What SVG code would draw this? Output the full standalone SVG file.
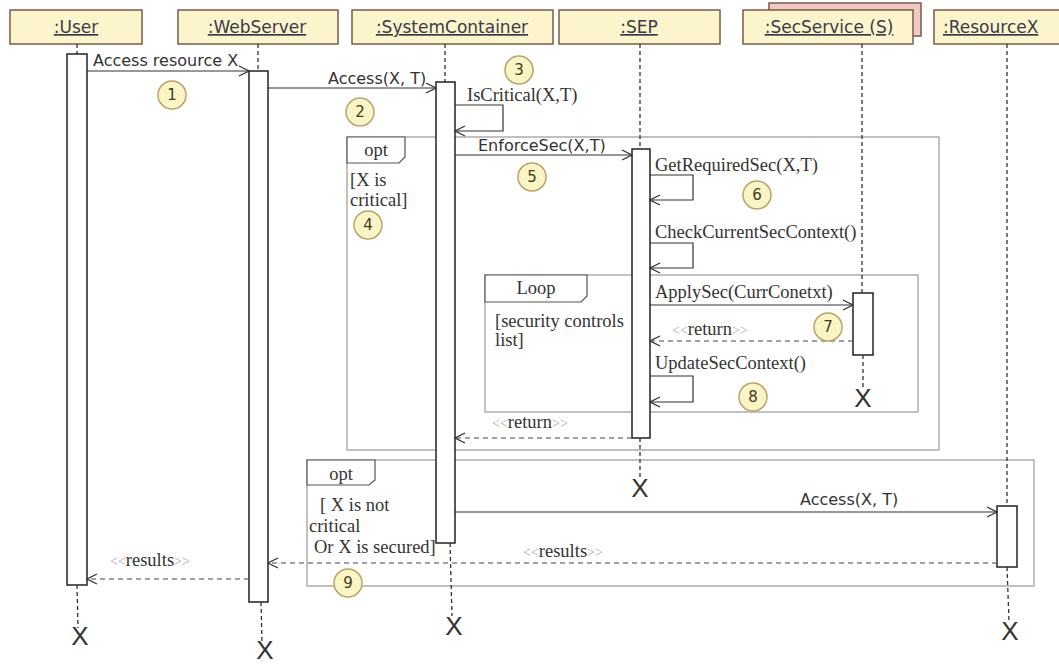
<svg xmlns="http://www.w3.org/2000/svg" width="1059" height="664" viewBox="0 0 1059 664">
  <defs>
    <marker id="open" markerUnits="userSpaceOnUse" markerWidth="12" markerHeight="12" viewBox="0 0 12 12" refX="11" refY="6" orient="auto">
      <path d="M1,1 L11,6 L1,11" fill="none" stroke="#333" stroke-width="1.3"/>
    </marker>
    <style>
      .hdr { fill: #fcf5cc; stroke: #7a5a48; stroke-width: 1.5; }
      .shadow { fill: #f2c9c4; stroke: #7a5a48; stroke-width: 1.5; }
      .hdrtxt { font-family: "DejaVu Sans", sans-serif; font-size: 17px; fill: #3a3a4a; text-decoration: underline; }
      .mid { text-anchor: middle; }
      .life { stroke: #333; stroke-width: 1.3; stroke-dasharray: 4 3; fill: none; }
      .act { fill: #fff; stroke: #222; stroke-width: 1.5; }
      .msg { stroke: #333; stroke-width: 1.2; fill: none; marker-end: url(#open); }
      .ret { stroke: #444; stroke-width: 1.2; stroke-dasharray: 5 4; fill: none; marker-end: url(#open); }
      .sans { font-family: "DejaVu Sans", sans-serif; font-size: 16px; fill: #333; }
      .serif { font-family: "Liberation Serif", serif; font-size: 18.5px; fill: #333; }
      .st { fill: #aaa; font-size: 14px; }
      .frame { fill: none; stroke: #a0a0a0; stroke-width: 1.3; }
      .tab { fill: #fff; stroke: #555; stroke-width: 1.2; }
      .num { fill: #fbf4c4; stroke: #b9a56a; stroke-width: 1.5; }
      .numtxt { font-family: "DejaVu Sans", sans-serif; font-size: 15px; fill: #3d3d22; text-anchor: middle; }
      .x { font-family: "Liberation Sans", sans-serif; font-size: 26px; fill: #333; text-anchor: middle; }
    </style>
  </defs>
  <rect width="1059" height="664" fill="#fff"/>

  <!-- combined fragments -->
  <g id="frame-opt1">
    <rect class="frame" x="347" y="137" width="592" height="313"/>
    <path class="tab" d="M347,137 H405 V157 L399,163 H347 Z"/>
    <text class="serif" x="376" y="156" text-anchor="middle">opt</text>
    <text class="serif" x="350" y="186">[X is</text>
    <text class="serif" x="350" y="206">critical]</text>
  </g>
  <g id="frame-loop">
    <rect class="frame" x="485" y="275" width="433" height="137"/>
    <path class="tab" d="M485,275 H587 V296 L581,302 H485 Z"/>
    <text class="serif" x="536" y="294" text-anchor="middle">Loop</text>
    <text class="serif" x="495" y="327">[security controls</text>
    <text class="serif" x="495" y="346">list]</text>
  </g>
  <g id="frame-opt2">
    <rect class="frame" x="307" y="460" width="727" height="126"/>
    <path class="tab" d="M307,460 H375 V480 L369,485 H307 Z"/>
    <text class="serif" x="341" y="480" text-anchor="middle">opt</text>
    <text class="serif" x="320" y="511">[ X is not</text>
    <text class="serif" x="309" y="532">critical</text>
    <text class="serif" x="314" y="553">Or X is secured]</text>
  </g>

  <!-- lifelines -->
  <g id="user">
    <rect class="hdr" x="10" y="10" width="132" height="34"/>
    <text class="hdrtxt mid" x="76" y="33">:User</text>
    <line class="life" x1="77" y1="44" x2="77" y2="54"/>
    <rect class="act" x="67" y="54" width="20" height="531"/>
    <line class="life" x1="77" y1="585" x2="78" y2="628"/>
    <text class="x" x="80" y="645">X</text>
  </g>
  <g id="webserver">
    <rect class="hdr" x="178" y="10" width="160" height="34"/>
    <text class="hdrtxt mid" x="257" y="33">:WebServer</text>
    <line class="life" x1="258" y1="44" x2="258" y2="71"/>
    <rect class="act" x="249" y="71" width="19" height="531"/>
    <line class="life" x1="261" y1="602" x2="262" y2="642"/>
    <text class="x" x="265" y="659">X</text>
  </g>
  <g id="systemcontainer">
    <rect class="hdr" x="352" y="10" width="201" height="34"/>
    <text class="hdrtxt mid" x="452" y="33">:SystemContainer</text>
    <line class="life" x1="445" y1="44" x2="445" y2="82"/>
    <rect class="act" x="436" y="82" width="19" height="461"/>
    <line class="life" x1="450" y1="543" x2="452" y2="616"/>
    <text class="x" x="454" y="635">X</text>
  </g>
  <g id="sep">
    <rect class="hdr" x="559" y="10" width="161" height="34"/>
    <text class="hdrtxt mid" x="639" y="33">:SEP</text>
    <line class="life" x1="640" y1="44" x2="640" y2="149"/>
    <rect class="act" x="632" y="149" width="18" height="289"/>
    <line class="life" x1="640" y1="438" x2="640" y2="478"/>
    <text class="x" x="640" y="497">X</text>
  </g>
  <g id="secservice">
    <rect class="shadow" x="769" y="3" width="152" height="33"/>
    <rect class="hdr" x="743" y="10" width="170" height="34"/>
    <text class="hdrtxt mid" x="829" y="33">:SecService (S)</text>
    <line class="life" x1="862" y1="44" x2="862" y2="293"/>
    <rect class="act" x="853" y="293" width="20" height="62"/>
    <line class="life" x1="863" y1="355" x2="863" y2="389"/>
    <text class="x" x="863" y="407">X</text>
  </g>
  <g id="resourcex">
    <rect class="hdr" x="934" y="10" width="140" height="34"/>
    <text class="hdrtxt" x="943" y="33">:ResourceX</text>
    <line class="life" x1="1007" y1="44" x2="1007" y2="506"/>
    <rect class="act" x="997" y="506" width="20" height="61"/>
    <line class="life" x1="1007" y1="567" x2="1009" y2="621"/>
    <text class="x" x="1010" y="640">X</text>
  </g>

  <!-- messages -->
  <g id="connectors">
    <line class="msg" x1="87" y1="71" x2="249" y2="71"/>
    <line class="msg" x1="268" y1="88" x2="436" y2="88"/>
    <path class="msg" d="M455,105 H503 V131 H455"/>
    <line class="msg" x1="455" y1="155" x2="632" y2="155"/>
    <path class="msg" d="M650,175 H693 V200 H650"/>
    <path class="msg" d="M650,243 H693 V268 H650"/>
    <line class="msg" x1="650" y1="305" x2="853" y2="305"/>
    <line class="ret" x1="853" y1="341" x2="650" y2="341"/>
    <path class="msg" d="M650,376 H693 V402 H650"/>
    <line class="ret" x1="632" y1="438" x2="455" y2="438"/>
    <line class="msg" x1="455" y1="512" x2="997" y2="512"/>
    <line class="ret" x1="997" y1="563" x2="268" y2="563"/>
    <line class="ret" x1="249" y1="579" x2="87" y2="579"/>

    <text class="sans" x="93" y="66">Access resource X</text>
    <text class="sans" x="328" y="84">Access(X, T)</text>
    <text class="serif" x="467" y="101">IsCritical(X,T)</text>
    <text class="sans" x="478" y="151">EnforceSec(X,T)</text>
    <text class="serif" x="655" y="171">GetRequiredSec(X,T)</text>
    <text class="serif" x="655" y="238">CheckCurrentSecContext()</text>
    <text class="serif" x="655" y="298">ApplySec(CurrConetxt)</text>
    <text class="serif" x="672" y="335"><tspan class="st">&lt;&lt;</tspan>return<tspan class="st">&gt;&gt;</tspan></text>
    <text class="serif" x="655" y="369">UpdateSecContext()</text>
    <text class="serif" x="492" y="428"><tspan class="st">&lt;&lt;</tspan>return<tspan class="st">&gt;&gt;</tspan></text>
    <text class="sans" x="800" y="505">Access(X, T)</text>
    <text class="serif" x="523" y="557"><tspan class="st">&lt;&lt;</tspan>results<tspan class="st">&gt;&gt;</tspan></text>
    <text class="serif" x="110" y="566"><tspan class="st">&lt;&lt;</tspan>results<tspan class="st">&gt;&gt;</tspan></text>
  </g>

  <!-- step numbers -->
  <g id="steps">
    <circle class="num" cx="172" cy="95" r="14"/><text class="numtxt" x="172" y="100">1</text>
    <circle class="num" cx="360" cy="112" r="14"/><text class="numtxt" x="360" y="117">2</text>
    <circle class="num" cx="519" cy="70" r="14"/><text class="numtxt" x="519" y="75">3</text>
    <circle class="num" cx="368" cy="225" r="14"/><text class="numtxt" x="368" y="230">4</text>
    <circle class="num" cx="532" cy="177" r="14"/><text class="numtxt" x="532" y="182">5</text>
    <circle class="num" cx="757" cy="195" r="14"/><text class="numtxt" x="757" y="200">6</text>
    <circle class="num" cx="828" cy="327" r="14"/><text class="numtxt" x="828" y="332">7</text>
    <circle class="num" cx="753" cy="397" r="14"/><text class="numtxt" x="753" y="402">8</text>
    <circle class="num" cx="348" cy="583" r="14"/><text class="numtxt" x="348" y="588">9</text>
  </g>
</svg>
